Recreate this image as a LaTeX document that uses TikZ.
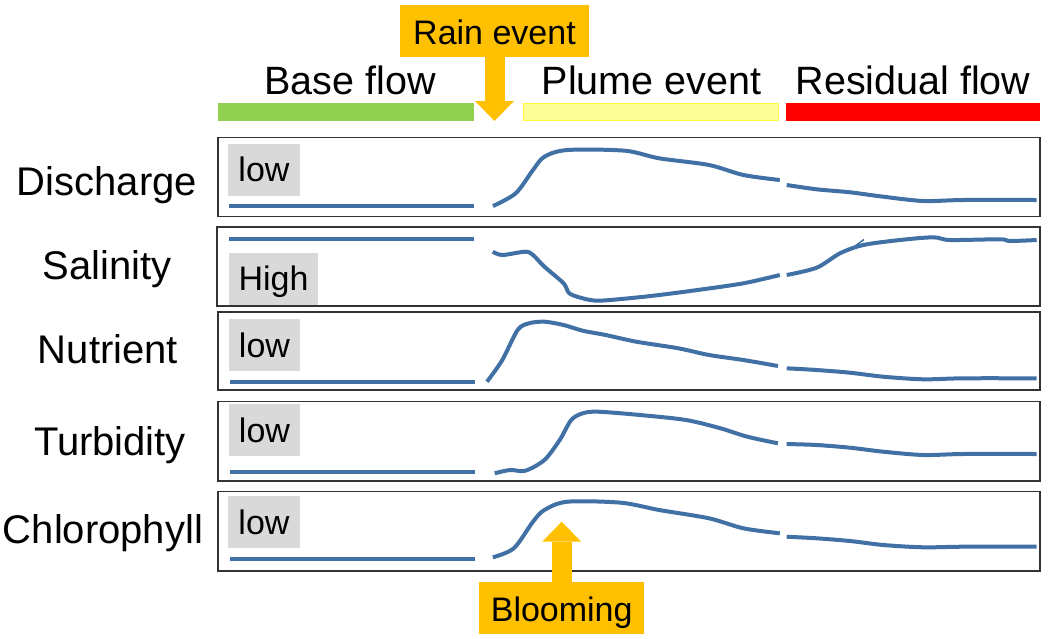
\documentclass[tikz,border=0pt]{standalone}
\usepackage{fontspec}
\setmainfont{Liberation Sans}
\usetikzlibrary{arrows.meta}

\definecolor{callout}{HTML}{FFC000}
\definecolor{baseflow}{HTML}{92D050}
\definecolor{plume}{HTML}{FFFF99}
\definecolor{plumeedge}{HTML}{FFFF40}
\definecolor{residual}{HTML}{FF0000}
\definecolor{series}{RGB}{65,113,164}
\definecolor{levelbox}{HTML}{D9D9D9}

\tikzset{
  phase/.style={font=\fontsize{39.5}{44}\selectfont, anchor=base, inner sep=0pt},
  rowlabel/.style={font=\fontsize{40}{44}\selectfont, anchor=base, inner sep=0pt},
  level/.style={fill=levelbox, font=\fontsize{34}{38}\selectfont, inner xsep=10pt, inner ysep=0pt,
    minimum height=52pt, text height=24.5pt, text depth=0pt},
  callout/.style={fill=callout, font=\fontsize{34}{38}\selectfont, inner xsep=11pt, inner ysep=0pt,
    minimum height=52pt, text height=27pt, text depth=0pt},
  panel/.style={draw=black!80, line width=1.5pt},
  trace/.style={draw=series, line width=4pt, line join=round},
  bigarrow/.style={draw=callout, line width=20pt, -{Triangle[width=39pt, length=20pt, line width=0pt]}}
}

\begin{document}
\begin{tikzpicture}[x=1pt, y=-1pt]
    \useasboundingbox (0, 0) rectangle (1055, 638);

    % Phase bars
    \fill [baseflow] (218, 103) rectangle (474, 121);
    \draw [fill=plume, draw=plumeedge, line width=1.2pt] (523.5, 103.5) rectangle (778.5, 120.5);
    \fill [residual] (786, 103) rectangle (1040, 121);

    \node [phase] (base) at (350, 94.3) {Base flow};
    \node [phase] (plumelabel) at (651.5, 94.3) {Plume event};
    \node [phase] (residuallabel) at (913, 94.3) {Residual flow};

    % Row labels
    \node [rowlabel] (discharge) at (107, 195) {Discharge};
    \node [rowlabel] (salinity) at (107, 279) {Salinity};
    \node [rowlabel] (nutrient) at (108, 363) {Nutrient};
    \node [rowlabel] (turbidity) at (110, 455) {Turbidity};
    \node [rowlabel] (chlorophyll) at (103, 543) {Chlorophyll};

    % Level boxes
    \node [level] (lowdis) at (264, 169.5) {low};
    \node [level] (highsal) at (273.5, 278.5) {High};
    \node [level] (lownut) at (264.5, 345) {low};
    \node [level] (lowtur) at (264.5, 430) {low};
    \node [level] (lowchl) at (264, 522) {low};

    % Panels
    \draw [panel] (218, 137.3) rectangle (1040, 216.7);
    \draw [panel] (217, 227) rectangle (1040, 306);
    \draw [panel] (218, 312) rectangle (1040, 390);
    \draw [panel] (218, 401.7) rectangle (1040, 481);
    \draw [panel] (218, 491.7) rectangle (1040, 571);

    % Discharge
    \draw [trace] (229, 206) -- (473.5, 206);
    \draw [trace] plot [smooth, tension=0.5] coordinates {(493, 206) (515.7, 193.3) (533, 170) (544.4, 156.7)
      (567.4, 150) (624.8, 150.7) (659.2, 158.3) (709, 165) (743.4, 175) (779.8, 180)};
    \draw [trace] plot [smooth, tension=0.5] coordinates {(786.7, 185) (816.7, 189.3) (850, 192.3)
      (883.3, 196.7) (923.3, 201) (963, 200) (1036.7, 200)};

    % Salinity
    \draw [trace] (229, 239) -- (473.5, 239);
    \draw [trace] plot [smooth, tension=0.5] coordinates {(492.8, 251.7) (502.3, 255) (525.3, 251.7)
      (533, 255) (544.4, 266.7) (563.6, 283.3) (569.3, 293.3) (582.7, 298.3) (598, 300.7) (628.6, 298.3)
      (659.2, 295) (697.5, 290) (743.4, 283.3) (779.8, 275)};
    \draw [trace] plot [smooth, tension=0.5] coordinates {(786.7, 275) (816.7, 267.7) (840, 253.3)
      (863.3, 245) (900, 240) (933.3, 237.3) (950, 240) (1000, 239.3) (1010, 241) (1036.7, 240)};
    \draw [draw=series, line width=1.5pt] (855, 246) -- (864, 239.5);

    % Nutrient
    \draw [trace] (230, 382) -- (475, 382);
    \draw [trace] plot [smooth, tension=0.5] coordinates {(487, 381.7) (502.3, 360) (517.6, 330) (529, 323.3)
      (544.4, 321.7) (563.6, 325) (582.7, 330.7) (605.7, 335) (636.3, 341.7) (678.4, 348.3) (709, 355)
      (743.4, 360) (777.9, 366)};
    \draw [trace] plot [smooth, tension=0.5] coordinates {(786.7, 368.3) (816.7, 370) (850, 372.7)
      (883.3, 376.7) (923.3, 379.3) (963.3, 378.3) (1036.7, 378.3)};

    % Turbidity
    \draw [trace] (230, 471.7) -- (475, 471.7);
    \draw [trace] plot [smooth, tension=0.5] coordinates {(494.7, 473.3) (510, 470) (525.3, 470.7)
      (544.4, 460) (559.7, 440) (571.2, 420) (582.7, 413.3) (598, 411.7) (640, 415) (686, 420)
      (720.5, 428.3) (747.3, 436.7) (777.9, 443.3)};
    \draw [trace] plot [smooth, tension=0.5] coordinates {(786.7, 444) (816.7, 445) (850, 447.7)
      (883.3, 451.7) (923.3, 455) (963.3, 454) (1036.7, 454)};

    % Chlorophyll
    \draw [trace] (230, 558.7) -- (475, 558.7);
    \draw [trace] plot [smooth, tension=0.5] coordinates {(492.8, 557.3) (513.8, 548.3) (533, 521.7)
      (544.4, 510) (567.4, 501.7) (621, 502.7) (659.2, 510) (709, 518.3) (743.4, 528.3) (779.8, 533.3)};
    \draw [trace] plot [smooth, tension=0.5] coordinates {(786.7, 536.7) (816.7, 538.3) (850, 541)
      (883.3, 545) (923.3, 547.3) (963.3, 546.7) (1036.7, 546.7)};

    % Callouts
    \node [callout, minimum width=189pt] (rain) at (494.5, 31) {Rain event};
    \coordinate (raintip) at (494.5, 121);
    \draw [bigarrow] (rain.south) -- (raintip);

    \node [callout, minimum width=165pt] (bloom) at (561.7, 608) {Blooming};
    \coordinate (bloomtip) at (561.7, 521.7);
    \draw [bigarrow] (bloom.north) -- (bloomtip);
\end{tikzpicture}
\end{document}
